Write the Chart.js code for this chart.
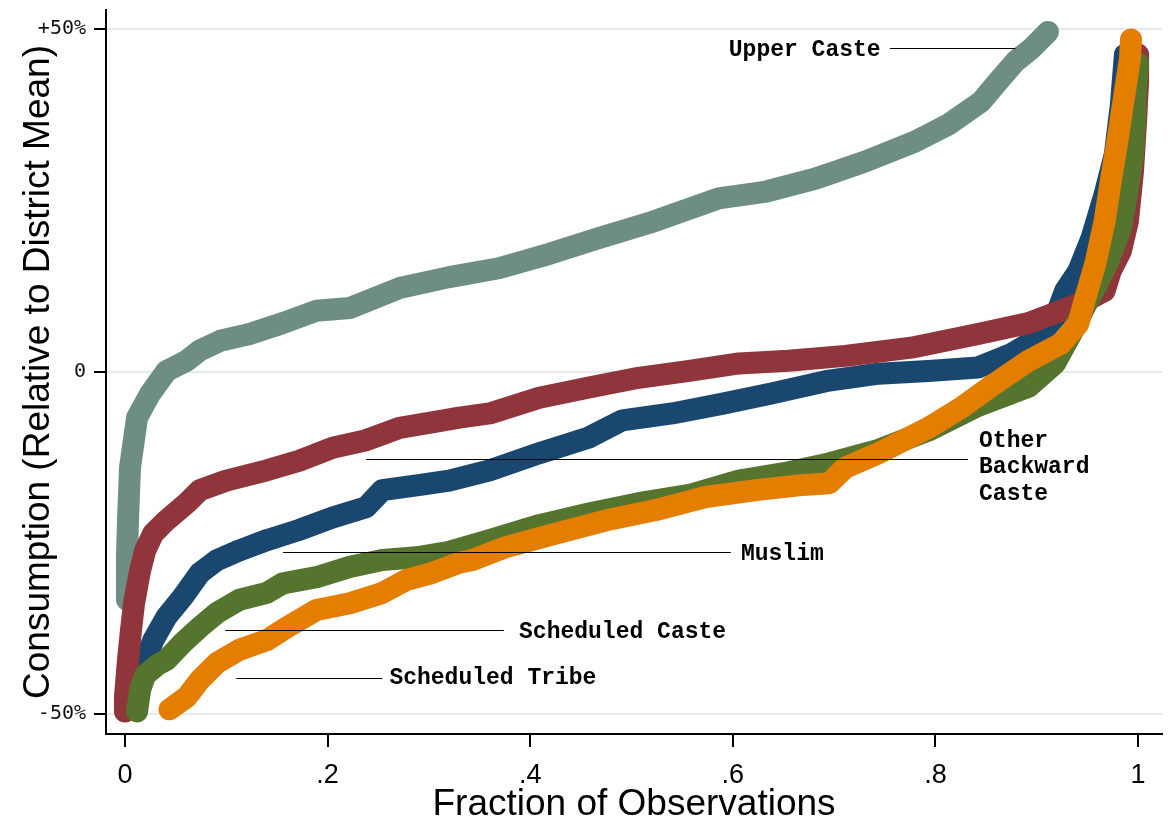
<!DOCTYPE html>
<html lang="en">
<head>
<meta charset="UTF-8">
<title>Consumption relative to district mean, by group</title>
<script src="https://cdn.jsdelivr.net/npm/chart.js"></script>
<style>
  html, body { margin: 0; padding: 0; background: #fff; }
  canvas { display: block; }
</style>
</head>
<body>
<canvas id="quantileChart" width="1172" height="820"></canvas>
<script>
// Group names, in the order the series are listed below
const groups = ['Upper Caste', 'Other Backward Caste', 'Muslim', 'Scheduled Caste', 'Scheduled Tribe'];

// Fraction of observations (x) and consumption relative to district mean, % (y)
const upperX = [0.002, 0.002, 0.003, 0.005, 0.012, 0.025, 0.041, 0.061, 0.074, 0.094, 0.123, 0.156, 0.189, 0.222, 0.271, 0.320, 0.369, 0.419, 0.468, 0.517, 0.586, 0.633, 0.682, 0.731, 0.780, 0.813, 0.845, 0.862, 0.879, 0.895, 0.911];
const upperY = [-33.3, -27.1, -21.7, -14.0, -6.7, -3.2, 0.1, 1.6, 3.1, 4.5, 5.5, 7.1, 8.9, 9.3, 12.2, 13.8, 15.1, 17.2, 19.5, 21.7, 25.3, 26.3, 28.2, 30.7, 33.6, 36.1, 39.4, 42.4, 45.3, 47.2, 49.6];

const obcX = [0.000, 0.000, 0.003, 0.006, 0.009, 0.015, 0.020, 0.028, 0.041, 0.061, 0.074, 0.100, 0.140, 0.172, 0.205, 0.238, 0.271, 0.303, 0.330, 0.360, 0.409, 0.458, 0.507, 0.557, 0.606, 0.655, 0.711, 0.776, 0.842, 0.892, 0.924, 0.948, 0.967, 0.973, 0.983, 0.990, 0.995, 0.998, 1.000, 1.000];
const obcY = [-49.6, -47.5, -42.1, -37.7, -33.8, -29.0, -26.1, -23.6, -21.7, -19.2, -17.3, -15.9, -14.4, -13.0, -11.1, -10.0, -8.2, -7.4, -6.7, -6.1, -3.8, -2.3, -0.9, 0.1, 1.2, 1.6, 2.3, 3.5, 5.5, 7.1, 8.9, 10.3, 11.8, 14.7, 17.6, 22.0, 29.3, 36.5, 42.4, 46.3];

const muslimX = [0.005, 0.012, 0.018, 0.028, 0.041, 0.057, 0.074, 0.091, 0.113, 0.140, 0.172, 0.205, 0.238, 0.254, 0.288, 0.320, 0.360, 0.409, 0.458, 0.491, 0.540, 0.589, 0.638, 0.695, 0.744, 0.793, 0.842, 0.875, 0.901, 0.918, 0.928, 0.941, 0.954, 0.967, 0.977, 0.983, 0.987];
const muslimY = [-46.9, -45.0, -43.1, -39.2, -35.8, -32.9, -29.4, -27.5, -26.1, -24.6, -23.1, -21.3, -19.8, -17.3, -16.6, -15.9, -14.4, -11.9, -9.6, -7.1, -6.1, -4.7, -3.2, -1.3, -0.3, 0.1, 0.6, 2.6, 4.9, 7.9, 11.8, 14.7, 19.5, 25.9, 31.7, 39.0, 46.3];

const scX = [0.012, 0.015, 0.020, 0.032, 0.041, 0.057, 0.074, 0.091, 0.113, 0.140, 0.156, 0.189, 0.222, 0.254, 0.288, 0.320, 0.360, 0.409, 0.458, 0.507, 0.557, 0.606, 0.655, 0.695, 0.744, 0.793, 0.842, 0.892, 0.918, 0.934, 0.948, 0.961, 0.970, 0.983, 0.990, 0.995, 0.997, 0.998, 1.000];
const scY = [-49.6, -46.4, -44.3, -42.8, -42.1, -39.6, -37.3, -35.2, -33.3, -32.3, -30.9, -30.0, -28.5, -27.5, -27.1, -26.3, -24.6, -22.4, -20.7, -19.2, -18.0, -15.9, -14.7, -13.4, -11.4, -8.6, -5.0, -2.2, 1.2, 5.5, 9.6, 13.2, 15.9, 21.0, 26.8, 31.7, 36.5, 41.3, 45.0];

const stX = [0.044, 0.061, 0.074, 0.091, 0.113, 0.140, 0.160, 0.189, 0.222, 0.254, 0.278, 0.303, 0.330, 0.343, 0.376, 0.426, 0.475, 0.524, 0.573, 0.623, 0.665, 0.695, 0.711, 0.744, 0.793, 0.826, 0.859, 0.892, 0.924, 0.941, 0.948, 0.958, 0.967, 0.973, 0.980, 0.985, 0.990, 0.992, 0.993];
const stY = [-49.3, -47.5, -45.0, -42.5, -40.6, -39.2, -37.3, -34.8, -33.8, -32.3, -30.4, -29.4, -27.9, -27.5, -25.6, -23.6, -21.7, -20.2, -18.3, -17.3, -16.6, -16.3, -14.0, -11.9, -8.2, -5.2, -1.7, 1.6, 4.1, 7.0, 10.8, 15.9, 22.0, 27.8, 34.1, 39.0, 43.8, 45.7, 48.5];

// Axis ticks
const xTicks = [0, 0.2, 0.4, 0.6, 0.8, 1];
const xTickLabels = ['0', '.2', '.4', '.6', '.8', '1'];
const yTicks = [-50, 0, 50];
const yTickLabels = ['-50%', '0', '+50%'];

const colors = ['#6e8e84', '#90353b', '#1a476f', '#55752f', '#e37e00'];
// drawing order: orange on top, then green, red, navy, teal
const layer = [5, 3, 4, 2, 1];

// Labels pointing at each curve (data coordinates)
const notes = [
  { text: ['Upper Caste'], textX: 0.596, textY: [47.0], lineFrom: 0.755, lineTo: 0.879, lineY: 47.2 },
  { text: ['Other', 'Backward', 'Caste'], textX: 0.843, textY: [-10.2, -14.0, -17.9], lineFrom: 0.238, lineTo: 0.832, lineY: -12.8 },
  { text: ['Muslim'], textX: 0.608, textY: [-26.6], lineFrom: 0.156, lineTo: 0.598, lineY: -26.3 },
  { text: ['Scheduled Caste'], textX: 0.389, textY: [-38.0], lineFrom: 0.099, lineTo: 0.374, lineY: -37.7 },
  { text: ['Scheduled Tribe'], textX: 0.261, textY: [-44.8], lineFrom: 0.110, lineTo: 0.254, lineY: -44.7 }
];

const seriesX = [upperX, obcX, muslimX, scX, stX];
const seriesY = [upperY, obcY, muslimY, scY, stY];

const datasets = groups.map((name, i) => ({
  label: name,
  data: seriesX[i].map((x, j) => ({ x: x, y: seriesY[i][j] })),
  showLine: true,
  borderColor: colors[i],
  backgroundColor: colors[i],
  pointBackgroundColor: colors[i],
  borderWidth: 22,
  borderJoinStyle: 'round',
  borderCapStyle: 'round',
  tension: 0,
  pointStyle: 'circle',
  pointRadius: 10,
  pointHoverRadius: 10,
  pointBorderWidth: 0,
  order: layer[i]
}));

const notesPlugin = {
  id: 'groupNotes',
  afterDatasetsDraw(chart) {
    const { ctx, scales: { x, y } } = chart;
    ctx.save();
    ctx.strokeStyle = '#000';
    ctx.lineWidth = 1;
    ctx.fillStyle = '#000';
    ctx.font = 'bold 23px "Liberation Mono", "Courier New", monospace';
    ctx.textBaseline = 'middle';
    ctx.textAlign = 'left';
    notes.forEach(n => {
      const ly = Math.round(y.getPixelForValue(n.lineY)) + 0.5;
      ctx.beginPath();
      ctx.moveTo(x.getPixelForValue(n.lineFrom), ly);
      ctx.lineTo(x.getPixelForValue(n.lineTo), ly);
      ctx.stroke();
      n.text.forEach((t, k) => {
        ctx.fillText(t, x.getPixelForValue(n.textX), y.getPixelForValue(n.textY[k]));
      });
    });
    ctx.restore();
  }
};

const ctx = document.getElementById('quantileChart').getContext('2d');
new Chart(ctx, {
  type: 'scatter',
  data: { datasets: datasets },
  plugins: [notesPlugin],
  options: {
    responsive: false,
    devicePixelRatio: 1,
    animation: false,
    events: [],
    layout: { padding: { top: 8, right: 8, left: 0, bottom: 0 } },
    plugins: {
      legend: { display: false },
      tooltip: { enabled: false }
    },
    scales: {
      x: {
        type: 'linear',
        min: -0.0187,
        max: 1.0236,
        afterBuildTicks: scale => { scale.ticks = xTicks.map(v => ({ value: v })); },
        afterFit: scale => {
          scale.height = 86;
          scale.paddingLeft = 0;
          scale.paddingRight = 0;
        },
        border: { display: true, color: '#000', width: 2 },
        grid: { drawOnChartArea: false, tickColor: '#000', tickLength: 13, lineWidth: 2 },
        ticks: {
          autoSkip: false,
          maxRotation: 0,
          padding: 12,
          color: '#000',
          font: { family: '"Liberation Sans", Arial, sans-serif', size: 27 },
          callback: (value, index) => xTickLabels[index]
        },
        title: {
          display: true,
          text: 'Fraction of Observations',
          color: '#000',
          padding: { top: 0, bottom: -3 },
          font: { family: '"Liberation Sans", Arial, sans-serif', size: 37, lineHeight: 1 }
        }
      },
      y: {
        type: 'linear',
        min: -52.9,
        max: 52.8,
        afterBuildTicks: scale => { scale.ticks = yTicks.map(v => ({ value: v })); },
        afterFit: scale => {
          scale.width = 106;
          scale.paddingTop = 0;
          scale.paddingBottom = 0;
        },
        border: { display: true, color: '#000', width: 2 },
        grid: { color: '#e3ebee', tickColor: '#000', tickLength: 12, lineWidth: 2 },
        ticks: {
          autoSkip: false,
          padding: 8,
          color: '#111',
          font: { family: '"DejaVu Sans Mono", monospace', size: 20 },
          callback: (value, index) => yTickLabels[index]
        },
        title: {
          display: true,
          text: 'Consumption (Relative to District Mean)',
          color: '#000',
          padding: { top: 20, bottom: 0 },
          font: { family: '"Liberation Sans", Arial, sans-serif', size: 37, lineHeight: 1 }
        }
      }
    }
  }
});
</script>
</body>
</html>
